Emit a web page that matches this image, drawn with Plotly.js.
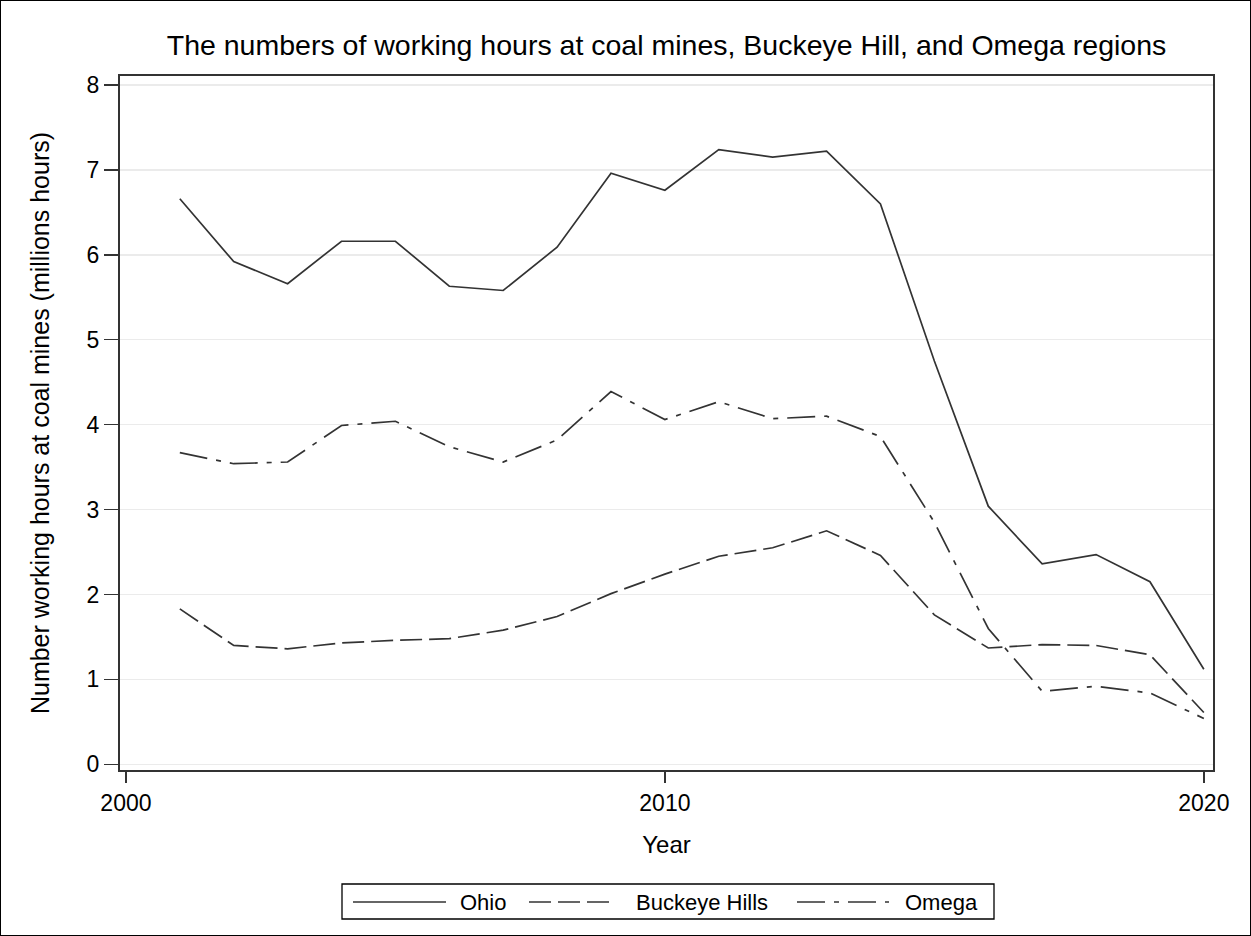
<!DOCTYPE html>
<html>
<head>
<meta charset="utf-8">
<script src="https://cdn.plot.ly/plotly-3.0.1.min.js"></script>
<style>
  body { margin: 0; background: #fff; }
  #frame { width: 1249px; height: 934px; border: 1px solid #000; }
</style>
</head>
<body>
<div id="frame"><div id="chart"></div></div>
<script>
// years and working hours (millions)
var years = [2001, 2002, 2003, 2004, 2005, 2006, 2007, 2008, 2009, 2010,
             2011, 2012, 2013, 2014, 2015, 2016, 2017, 2018, 2019, 2020];
var ohio = [6.66, 5.92, 5.66, 6.16, 6.16, 5.63, 5.58, 6.09, 6.96, 6.76,
            7.24, 7.15, 7.22, 6.60, 4.75, 3.04, 2.36, 2.47, 2.15, 1.12];
var buckeye = [1.83, 1.40, 1.36, 1.43, 1.46, 1.48, 1.58, 1.74, 2.01, 2.24,
               2.45, 2.55, 2.75, 2.46, 1.76, 1.37, 1.41, 1.40, 1.29, 0.61];
var omega = [3.67, 3.54, 3.56, 3.99, 4.04, 3.74, 3.56, 3.82, 4.39, 4.06,
             4.27, 4.07, 4.10, 3.86, 2.85, 1.60, 0.86, 0.92, 0.84, 0.54];
var seriesNames = ['Ohio', 'Buckeye Hills', 'Omega'];
var xTicks = [2000, 2010, 2020];
var yTicks = [0, 1, 2, 3, 4, 5, 6, 7, 8];

var lineCol = '#333333';
var dashes = ['solid', '22px,7px', '28px,9px,5px,9px'];

var W = 1249, H = 934;
var mg = {l: 119, r: 37, t: 75, b: 165};
var plotW = W - mg.l - mg.r, plotH = H - mg.t - mg.b;
// pixel position on the page -> paper coordinates (for the legend box)
function px(x) { return (x - 1 - mg.l) / plotW; }
function py(y) { return 1 - (y - 1 - mg.t) / plotH; }

var traces = [ohio, buckeye, omega].map(function (vals, i) {
  return { x: years, y: vals, type: 'scatter', mode: 'lines', name: seriesNames[i],
    line: {color: lineCol, width: 1.7, dash: dashes[i]} };
});

// hand-built legend, SAS style: long line samples inside a framed box
var legY = 902;
var legItems = [
  {x0: 353, x1: 446, tx: 458},
  {x0: 529, x1: 615, tx: 634},
  {x0: 797, x1: 889, tx: 903}
];
var shapes = [{
  type: 'rect', xref: 'paper', yref: 'paper',
  x0: px(342), x1: px(994), y0: py(884), y1: py(919),
  line: {color: '#000', width: 1.3}, fillcolor: 'rgba(0,0,0,0)'
}];
var annotations = [];
legItems.forEach(function (it, i) {
  shapes.push({
    type: 'line', xref: 'paper', yref: 'paper',
    x0: px(it.x0), x1: px(it.x1), y0: py(legY), y1: py(legY),
    line: {color: lineCol, width: 1.7, dash: dashes[i]}
  });
  annotations.push({
    xref: 'paper', yref: 'paper', x: px(it.tx), y: py(legY),
    xanchor: 'left', yanchor: 'middle', showarrow: false,
    text: seriesNames[i], font: {size: 22}
  });
});

var layout = {
  width: W,
  height: H,
  margin: mg,
  paper_bgcolor: '#ffffff',
  plot_bgcolor: '#ffffff',
  font: {family: 'Liberation Sans, Arial, sans-serif', size: 22, color: '#000'},
  title: {
    text: 'The numbers of working hours at coal mines, Buckeye Hill, and Omega regions',
    font: {size: 28.5},
    x: 0.5, xref: 'paper',
    y: 1 - 44 / H, yref: 'container', yanchor: 'middle'
  },
  showlegend: false,
  shapes: shapes,
  annotations: annotations,
  xaxis: {
    title: {text: 'Year', font: {size: 24}},
    range: [1999.89, 2020.17],
    tickvals: xTicks,
    ticks: 'outside', ticklen: 11, tickwidth: 1.5, tickcolor: '#333',
    tickfont: {size: 23},
    showline: true, linecolor: '#333', linewidth: 2, mirror: true,
    showgrid: false, zeroline: false, automargin: false
  },
  yaxis: {
    title: {text: 'Number working hours at coal mines (millions hours)', font: {size: 25}, standoff: 30},
    range: [-0.067, 8.106],
    tickvals: yTicks,
    ticks: 'outside', ticklen: 14, tickwidth: 1.5, tickcolor: '#333',
    tickfont: {size: 23},
    showline: true, linecolor: '#333', linewidth: 2, mirror: true,
    showgrid: true, gridcolor: '#ebebeb', gridwidth: 1.5,
    zeroline: false, automargin: true
  }
};

Plotly.newPlot('chart', traces, layout, {displayModeBar: false, staticPlot: true});
</script>
</body>
</html>
